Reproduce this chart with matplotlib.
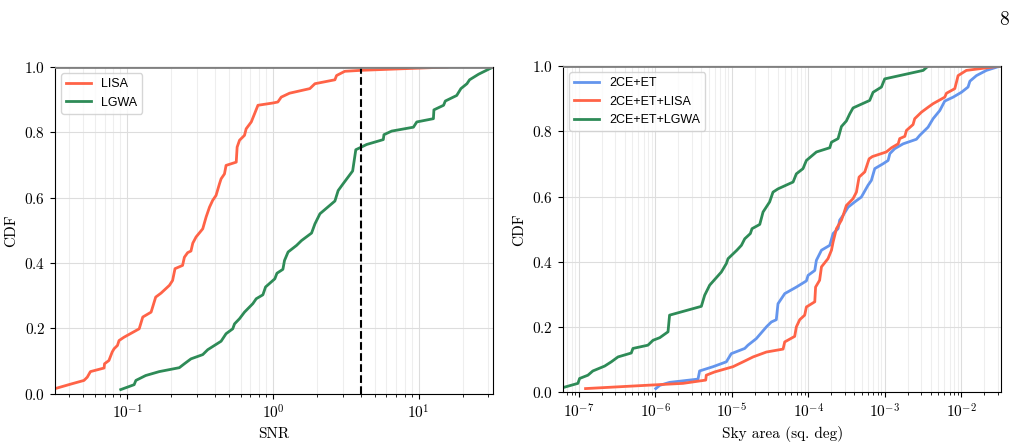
import numpy as np
import matplotlib
matplotlib.use("Agg")
import matplotlib.pyplot as plt

plt.rcParams['font.family'] = 'serif'
plt.rcParams['font.serif'] = ['cmr10', 'DejaVu Serif']
plt.rcParams['mathtext.fontset'] = 'cm'
plt.rcParams['axes.formatter.use_mathtext'] = True

# CDF of SNR (left panel)
lisa_snr = [0.0315, 0.042, 0.0506, 0.0533, 0.056, 0.0695, 0.070, 0.075, 0.079, 0.0814,
            0.0858, 0.088, 0.095, 0.121, 0.128, 0.146, 0.157, 0.1706, 0.195, 0.205,
            0.213, 0.240, 0.247, 0.260, 0.274, 0.282, 0.297, 0.330, 0.348, 0.367,
            0.386, 0.407, 0.430, 0.441, 0.465, 0.477, 0.560, 0.568, 0.590, 0.638,
            0.655, 0.710, 0.748, 0.789, 1.00, 1.08, 1.14, 1.30, 1.79, 1.94,
            2.66, 2.73, 3.11, 4.05, 15.6]
lisa_cdf = [0.015, 0.031, 0.041, 0.051, 0.068, 0.079, 0.092, 0.102, 0.128, 0.138,
            0.148, 0.163, 0.173, 0.199, 0.235, 0.250, 0.296, 0.308, 0.332, 0.347,
            0.383, 0.393, 0.418, 0.432, 0.437, 0.461, 0.480, 0.505, 0.541, 0.571,
            0.592, 0.607, 0.643, 0.658, 0.673, 0.699, 0.709, 0.755, 0.776, 0.791,
            0.811, 0.832, 0.857, 0.883, 0.890, 0.893, 0.908, 0.920, 0.934, 0.949,
            0.961, 0.974, 0.987, 0.990, 1.0]

lgwa_snr = [0.0904, 0.1117, 0.1148, 0.134, 0.166, 0.228, 0.247, 0.274, 0.330, 0.357,
            0.441, 0.477, 0.530, 0.545, 0.590, 0.638, 0.728, 0.768, 0.853, 0.890,
            1.03, 1.065, 1.17, 1.20, 1.27, 1.45, 1.57, 1.84, 1.94, 2.10,
            2.66, 2.80, 3.03, 3.52, 3.70, 3.95, 4.39, 5.71, 5.77, 6.52,
            9.19, 9.69, 12.6, 12.7, 14.8, 15.2, 18.2, 19.45, 21.4, 22.3,
            25.7, 32.3]
lgwa_cdf = [0.013, 0.028, 0.041, 0.056, 0.068, 0.080, 0.092, 0.107, 0.120, 0.135,
            0.161, 0.184, 0.199, 0.214, 0.230, 0.250, 0.276, 0.291, 0.303, 0.327,
            0.352, 0.369, 0.381, 0.408, 0.434, 0.454, 0.469, 0.492, 0.520, 0.551,
            0.590, 0.622, 0.643, 0.682, 0.747, 0.753, 0.763, 0.778, 0.793, 0.804,
            0.816, 0.832, 0.842, 0.869, 0.883, 0.896, 0.913, 0.934, 0.949, 0.961,
            0.978, 1.0]

snr_threshold = 4.0

# CDF of sky area (right panel)
et_area = [1.01e-6, 1.14e-6, 1.53e-6, 3.6e-6, 3.78e-6, 5.65e-6, 8.45e-6, 9.8e-6, 1.47e-5, 1.62e-5,
           2.08e-5, 2.82e-5, 3.27e-5, 3.8e-5, 4.0e-5, 4.9e-5, 6.95e-5, 9.4e-5, 9.9e-5, 1.21e-4,
           1.27e-4, 1.48e-4, 1.90e-4, 2.10e-4, 2.44e-4, 2.56e-4, 2.84e-4, 3.30e-4, 4.03e-4, 4.92e-4,
           6.01e-4, 6.65e-4, 7.36e-4, 9.46e-4, 1.10e-3, 1.16e-3, 1.34e-3, 1.73e-3, 2.58e-3, 2.85e-3,
           3.66e-3, 4.26e-3, 5.21e-3, 6.05e-3, 7.78e-3, 1.0e-2, 1.22e-2, 1.29e-2, 1.57e-2, 2.12e-2,
           3.17e-2]
et_cdf = [0.012, 0.022, 0.031, 0.041, 0.066, 0.079, 0.094, 0.119, 0.135, 0.145,
          0.165, 0.201, 0.216, 0.223, 0.272, 0.303, 0.323, 0.342, 0.359, 0.374,
          0.405, 0.436, 0.451, 0.487, 0.502, 0.528, 0.543, 0.568, 0.584, 0.599,
          0.635, 0.650, 0.686, 0.701, 0.711, 0.732, 0.747, 0.762, 0.776, 0.788,
          0.813, 0.839, 0.864, 0.893, 0.905, 0.920, 0.936, 0.954, 0.971, 0.987,
          1.0]

et_lisa_area = [1.22e-7, 7.6e-7, 2.29e-6, 4.54e-6, 4.62e-6, 5.94e-6, 1.03e-5, 1.40e-5, 1.89e-5, 2.82e-5,
                4.66e-5, 4.9e-5, 6.61e-5, 6.95e-5, 7.69e-5, 8.93e-5, 9.4e-5, 1.21e-4, 1.24e-4, 1.40e-4,
                1.48e-4, 1.80e-4, 2.0e-4, 2.10e-4, 2.32e-4, 2.70e-4, 2.89e-4, 3.13e-4, 3.83e-4, 4.24e-4,
                4.59e-4, 5.45e-4, 6.21e-4, 6.86e-4, 1.04e-3, 1.22e-3, 1.49e-3, 1.56e-3, 1.82e-3, 1.91e-3,
                2.33e-3, 2.45e-3, 3.0e-3, 3.66e-3, 4.26e-3, 6.05e-3, 6.37e-3, 8.18e-3, 8.61e-3, 9.04e-3,
                1.16e-2, 3.17e-2]
et_lisa_cdf = [0.012, 0.022, 0.028, 0.038, 0.053, 0.063, 0.079, 0.094, 0.109, 0.124,
               0.133, 0.155, 0.172, 0.201, 0.223, 0.237, 0.262, 0.278, 0.323, 0.344,
               0.385, 0.410, 0.436, 0.461, 0.502, 0.528, 0.548, 0.573, 0.594, 0.614,
               0.660, 0.676, 0.716, 0.723, 0.737, 0.750, 0.762, 0.778, 0.785, 0.803,
               0.821, 0.839, 0.859, 0.874, 0.885, 0.905, 0.917, 0.931, 0.951, 0.971,
               0.987, 1.0]

et_lgwa_area = [6.18e-8, 9.7e-8, 1.02e-7, 1.31e-7, 1.52e-7, 2.17e-7, 2.65e-7, 3.24e-7, 4.83e-7, 5.08e-7,
                7.98e-7, 9.3e-7, 1.14e-6, 1.46e-6, 1.53e-6, 3.98e-6, 4.40e-6, 5.12e-6, 7.26e-6, 8.45e-6,
                8.89e-6, 1.16e-5, 1.33e-5, 1.47e-5, 1.74e-5, 1.83e-5, 2.31e-5, 2.55e-5, 3.11e-5, 3.44e-5,
                4.0e-5, 6.3e-5, 6.95e-5, 8.49e-5, 9.4e-5, 1.27e-4, 1.90e-4, 2.0e-4, 2.44e-4, 2.70e-4,
                3.13e-4, 3.47e-4, 3.83e-4, 6.32e-4, 7.0e-4, 9.0e-4, 9.93e-4, 3.16e-3, 3.66e-3]
et_lgwa_cdf = [0.015, 0.028, 0.043, 0.053, 0.066, 0.081, 0.094, 0.109, 0.121, 0.135,
               0.145, 0.160, 0.168, 0.186, 0.237, 0.264, 0.298, 0.329, 0.369, 0.395,
               0.410, 0.436, 0.451, 0.471, 0.487, 0.502, 0.515, 0.553, 0.584, 0.614,
               0.624, 0.645, 0.670, 0.686, 0.711, 0.737, 0.750, 0.767, 0.778, 0.815,
               0.832, 0.854, 0.872, 0.895, 0.920, 0.936, 0.961, 0.987, 1.0]

c_orange = '#ff6347'
c_green = '#2e8b57'
c_blue = '#6495ed'

fig = plt.figure(figsize=(10.18, 4.44), dpi=100)
ax1 = fig.add_axes([0.054, 0.113, 0.4305, 0.736])
ax2 = fig.add_axes([0.553, 0.116, 0.4307, 0.735])


def style_axis(ax):
    ax.set_xscale('log')
    ax.set_ylim(0, 1)
    ax.set_yticks([0, 0.2, 0.4, 0.6, 0.8, 1.0])
    ax.grid(True, which='major', color='#dddddd', lw=0.8)
    ax.grid(True, which='minor', axis='x', color='#eeeeee', lw=0.8)
    ax.set_axisbelow(True)
    ax.axhline(1.0, color='gray', lw=2, zorder=3)
    ax.tick_params(labelsize=11)
    ax.set_ylabel('CDF', fontsize=11)


# left: SNR
ax1.plot(lisa_snr, lisa_cdf, color=c_orange, lw=2, label='LISA')
ax1.plot(lgwa_snr, lgwa_cdf, color=c_green, lw=2, label='LGWA')
ax1.axvline(snr_threshold, color='k', ls='--', lw=1.5)
style_axis(ax1)
ax1.set_xlim(0.032, 32.4)
ax1.set_xlabel('SNR', fontsize=11)
ax1.legend(loc='upper left', prop={'family': 'Liberation Sans', 'size': 9})

# right: sky area
ax2.plot(et_area, et_cdf, color=c_blue, lw=2, label='2CE+ET')
ax2.plot(et_lisa_area, et_lisa_cdf, color=c_orange, lw=2, label='2CE+ET+LISA')
ax2.plot(et_lgwa_area, et_lgwa_cdf, color=c_green, lw=2, label='2CE+ET+LGWA')
style_axis(ax2)
ax2.set_xlim(6.18e-8, 3.33e-2)
ax2.set_xlabel('Sky area (sq. deg)', fontsize=11)
ax2.legend(loc='upper left', prop={'family': 'Liberation Sans', 'size': 9})

# page number
fig.text(0.991, 0.975, '8', fontsize=14, ha='right', va='top')

fig.savefig('out.png', dpi=100)
